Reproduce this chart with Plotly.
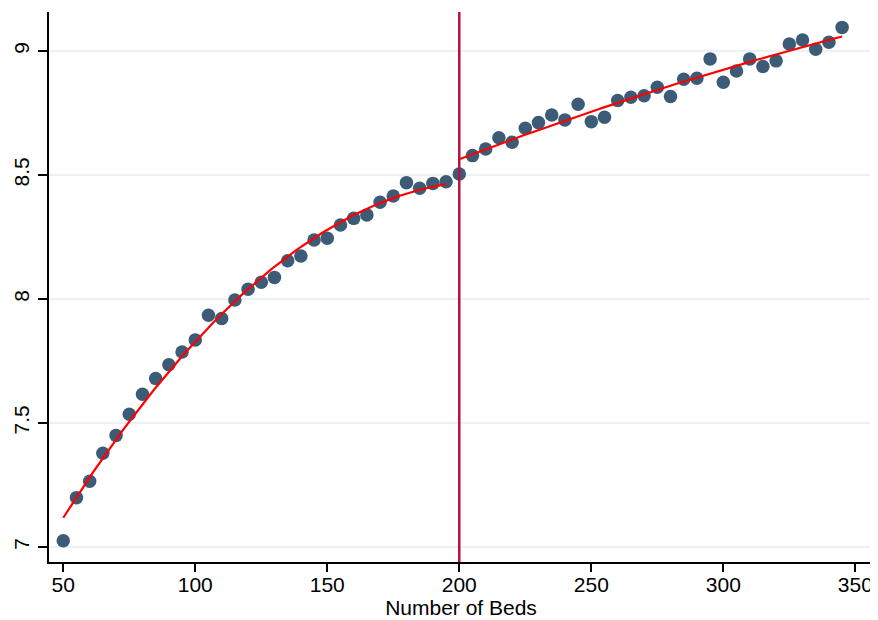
import numpy as np
import plotly.graph_objects as go

beds = list(range(50, 350, 5))
los = [7.025, 7.199, 7.265, 7.378, 7.450, 7.535, 7.616, 7.679, 7.735, 7.786,
       7.835, 7.934, 7.921, 7.996, 8.039, 8.067, 8.087, 8.154, 8.173, 8.238,
       8.245, 8.298, 8.325, 8.339, 8.390, 8.415, 8.469, 8.446, 8.466, 8.473,
       8.504, 8.578, 8.605, 8.650, 8.632, 8.688, 8.711, 8.742, 8.722, 8.785,
       8.715, 8.733, 8.800, 8.813, 8.819, 8.854, 8.816, 8.886, 8.890, 8.968,
       8.874, 8.919, 8.968, 8.937, 8.960, 9.028, 9.044, 9.007, 9.035, 9.095]
cutoff = 200
x_ticks = [50, 100, 150, 200, 250, 300, 350]
y_ticks = [7, 7.5, 8, 8.5, 9]
y_tick_text = ["7", "7.5", "8", "8.5", "9"]

bx = np.array(beds, dtype=float)
by = np.array(los)

fig = go.Figure()
fig.add_trace(go.Scatter(x=beds, y=los, mode="markers",
                         marker=dict(size=13.5, color="#3B5B77"),
                         showlegend=False))

for mask in (bx < cutoff, bx >= cutoff):
    xs, ys = bx[mask], by[mask]
    c = np.polyfit(xs, ys, 2)
    xf = np.linspace(xs.min(), xs.max(), 100)
    fig.add_trace(go.Scatter(x=xf, y=np.polyval(c, xf), mode="lines",
                             line=dict(color="#FF0000", width=2.2),
                             showlegend=False))

fig.add_shape(type="line", x0=cutoff, x1=cutoff, y0=0, y1=1, yref="paper",
              line=dict(color="#B8123E", width=2.5))

font = dict(family="Liberation Sans, Arial, sans-serif", size=21, color="#000000")
fig.update_layout(
    width=870, height=612,
    margin=dict(l=41, r=5, t=4, b=58),
    paper_bgcolor="white", plot_bgcolor="white",
    font=font,
    xaxis=dict(range=[44.6, 356.7], tickvals=x_ticks, showgrid=False,
               showline=True, linecolor="#000000", linewidth=1.5,
               ticks="outside", ticklen=8, tickwidth=1.5, tickcolor="#000000",
               ticklabelstandoff=-5,
               zeroline=False, automargin=False,
               title=dict(text="Number of Beds", standoff=2, font=font)),
    yaxis=dict(range=[6.9395, 9.157], tickvals=y_ticks, ticktext=y_tick_text,
               tickangle=-90, showgrid=True, gridcolor="#EAF2F3", gridwidth=1.5,
               showline=True, linecolor="#000000", linewidth=1.5,
               ticks="outside", ticklen=9, tickwidth=1.5, tickcolor="#000000",
               ticklabelstandoff=1,
               zeroline=False, automargin=False),
)

fig.write_html("out.html")
